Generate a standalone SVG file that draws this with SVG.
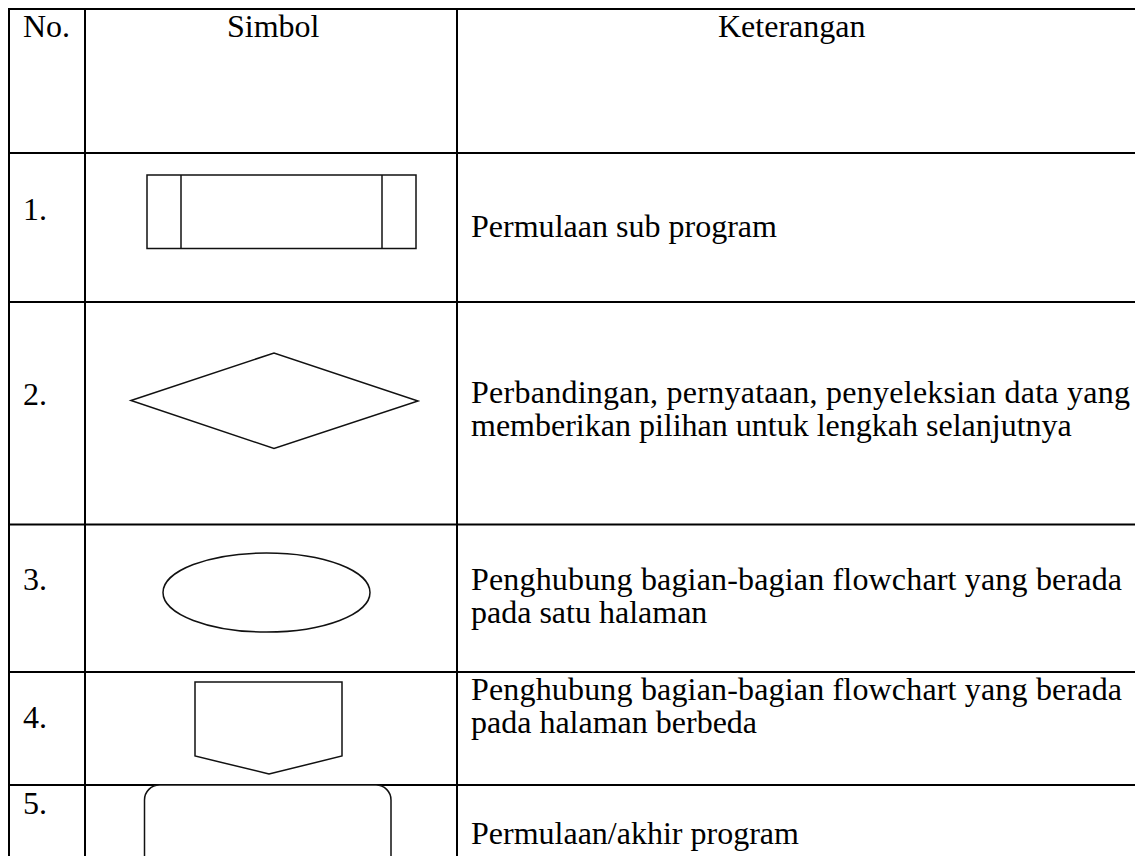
<svg xmlns="http://www.w3.org/2000/svg" width="1135" height="856" viewBox="0 0 1135 856">
  <style>
    .grid { stroke: #000; stroke-width: 2; fill: none; }
    .shape { stroke: #111; stroke-width: 1.5; fill: #fff; }
    text { font-family: "Liberation Serif", "Times New Roman", serif; font-size: 32px; fill: #000; }
  </style>
  <rect width="1135" height="856" fill="#fff"/>

  <!-- table rules -->
  <g id="table-grid" class="grid">
    <line x1="9" y1="9" x2="1135" y2="9"/>
    <line x1="9" y1="153" x2="1135" y2="153"/>
    <line x1="9" y1="302" x2="1135" y2="302"/>
    <line x1="9" y1="524.5" x2="1135" y2="524.5"/>
    <line x1="9" y1="672" x2="1135" y2="672"/>
    <line x1="9" y1="785" x2="1135" y2="785"/>
    <line x1="9" y1="8" x2="9" y2="856"/>
    <line x1="85" y1="8" x2="85" y2="856"/>
    <line x1="457" y1="8" x2="457" y2="856"/>
  </g>

  <!-- header row -->
  <g id="header">
    <text x="23" y="37">No.</text>
    <text x="227" y="37">Simbol</text>
    <text x="718" y="37">Keterangan</text>
  </g>

  <!-- row 1: predefined process -->
  <g id="row-1">
    <text x="23" y="220">1.</text>
    <g class="shape">
      <rect x="147" y="175" width="269" height="73.5"/>
      <line x1="181" y1="175" x2="181" y2="248.5"/>
      <line x1="382" y1="175" x2="382" y2="248.5"/>
    </g>
    <text x="471" y="237" font-size="30" textLength="306" lengthAdjust="spacingAndGlyphs">Permulaan sub program</text>
  </g>

  <!-- row 2: decision -->
  <g id="row-2">
    <text x="23" y="405">2.</text>
    <polygon class="shape" points="131,400.5 274,353 418,401 274,448.5"/>
    <text x="471" y="403" textLength="659" lengthAdjust="spacing">Perbandingan, pernyataan, penyeleksian data yang</text>
    <text x="471" y="436">memberikan pilihan untuk lengkah selanjutnya</text>
  </g>

  <!-- row 3: on-page connector -->
  <g id="row-3">
    <text x="23" y="590">3.</text>
    <ellipse class="shape" cx="266.5" cy="592.5" rx="103.5" ry="39.5"/>
    <text x="471" y="590" textLength="651" lengthAdjust="spacing">Penghubung bagian-bagian flowchart yang berada</text>
    <text x="471" y="623">pada satu halaman</text>
  </g>

  <!-- row 4: off-page connector -->
  <g id="row-4">
    <text x="23" y="728">4.</text>
    <polygon class="shape" points="195,682 342,682 342,756 269,774 195,756"/>
    <text x="471" y="700" textLength="651" lengthAdjust="spacing">Penghubung bagian-bagian flowchart yang berada</text>
    <text x="471" y="733">pada halaman berbeda</text>
  </g>

  <!-- row 5: terminator -->
  <g id="row-5">
    <text x="23" y="814">5.</text>
    <rect class="shape" x="144.5" y="785" width="246.5" height="110" rx="15" ry="15"/>
    <text x="471" y="844">Permulaan/akhir program</text>
  </g>
</svg>
